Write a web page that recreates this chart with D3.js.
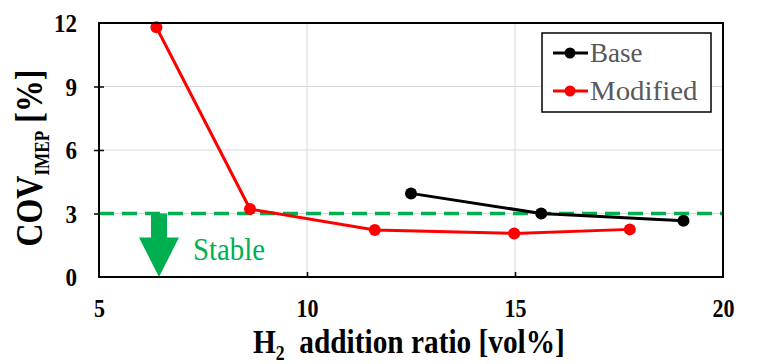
<!DOCTYPE html>
<html><head><meta charset="utf-8">
<script src="https://cdn.jsdelivr.net/npm/d3@7"></script>
<style>body{margin:0;background:#fff}svg{display:block}</style>
</head><body>
<script>
const baseX = [12.5, 15.63, 19.05];
const baseY = [3.95, 3.0, 2.66];
const modX = [6.38, 8.63, 11.63, 14.98, 17.76];
const modY = [11.8, 3.21, 2.22, 2.06, 2.25];
const xTicks = [5, 10, 15, 20];
const yTicks = [0, 3, 6, 9, 12];
const stableLimit = 3;
const seriesNames = ["Base", "Modified"];

const W = 760, H = 364;
const m = {l: 99, r: 37, t: 23, b: 87};
const svg = d3.select("body").append("svg").attr("width", W).attr("height", H);
const x = d3.scaleLinear().domain([5, 20]).range([m.l, W - m.r]);
const y = d3.scaleLinear().domain([0, 12]).range([H - m.b, m.t]);
const SERIF = "'Liberation Serif','Times New Roman',serif";
const fs = (size, bold) => `font-family:${SERIF};font-size:${size}px;font-weight:${bold ? "bold" : "normal"}`;

// place text at (px,py), optional rotation, horizontally scaled to a target width
function placeText(t, px, py, targetW, rot) {
  const w = t.node().getBBox().width;
  const s = targetW ? targetW / w : 1;
  t.attr("x", 0).attr("y", 0)
   .attr("transform", `translate(${px},${py})${rot ? ` rotate(${rot})` : ""} scale(${s},1)`);
}

// grid
svg.append("g").selectAll("line").data(xTicks.slice(1, -1)).join("line")
  .attr("x1", d => x(d)).attr("x2", d => x(d)).attr("y1", y(0)).attr("y2", y(12))
  .attr("stroke", "#d9d9d9").attr("stroke-width", 1);
svg.append("g").selectAll("line").data(yTicks.slice(1, -1)).join("line")
  .attr("x1", x(5)).attr("x2", x(20)).attr("y1", d => y(d)).attr("y2", d => y(d))
  .attr("stroke", "#d9d9d9").attr("stroke-width", 1);

// axes
const xAxis = svg.append("g").attr("transform", `translate(0,${y(0)})`)
  .call(d3.axisBottom(x).tickValues(xTicks).tickSize(-5));
const yAxis = svg.append("g").attr("transform", `translate(${x(5)},0)`)
  .call(d3.axisLeft(y).tickValues(yTicks).tickSize(5));
[xAxis, yAxis].forEach(a => {
  a.attr("font-family", null).attr("font-size", null);
  a.select(".domain").remove();
  a.selectAll("line").attr("stroke", "#000").attr("stroke-width", 1.5);
  a.selectAll("text").attr("style", fs(25, true)).attr("fill", "#000").attr("dy", null);
});
yAxis.selectAll(".tick line").attr("x2", 5).attr("x1", -5);
xAxis.selectAll(".tick").filter(d => d === 5 || d === 20).select("line").remove();
yAxis.selectAll(".tick").filter(d => d === 0 || d === 12).select("line").remove();
xAxis.selectAll(".tick text").each(function(d) {
  const t = d3.select(this).attr("text-anchor", "middle");
  placeText(t, 0, 317 - y(0), String(d).length * 11);
});
yAxis.selectAll(".tick text").each(function(d) {
  const t = d3.select(this).attr("text-anchor", "end");
  placeText(t, -22, 8.5, String(d).length * 11.5);
});

// stable line
svg.append("line").attr("x1", x(5)).attr("x2", x(20))
  .attr("y1", y(stableLimit)).attr("y2", y(stableLimit))
  .attr("stroke", "#00b050").attr("stroke-width", 3.5).attr("stroke-dasharray", "15,8");

// arrow
const ax = 159;
const ay0 = y(stableLimit), ay1 = y(0);
svg.append("path")
  .attr("d", `M${ax-8},${ay0} L${ax+8},${ay0} L${ax+8},${ay0+24} L${ax+20},${ay0+24} L${ax},${ay1} L${ax-20},${ay0+24} L${ax-8},${ay0+24} Z`)
  .attr("fill", "#00b050");
placeText(svg.append("text").text("Stable").attr("style", fs(32, false)).attr("fill", "#00b050"),
  193, 260, 72);

// series
const line = d3.line().x(d => x(d[0])).y(d => y(d[1]));
const series = [
  {name: seriesNames[0], data: d3.zip(baseX, baseY), color: "#000"},
  {name: seriesNames[1], data: d3.zip(modX, modY), color: "#ff0000"}
];
series.forEach(s => {
  svg.append("path").datum(s.data).attr("d", line).attr("fill", "none")
    .attr("stroke", s.color).attr("stroke-width", 3);
  svg.append("g").selectAll("circle").data(s.data).join("circle")
    .attr("cx", d => x(d[0])).attr("cy", d => y(d[1])).attr("r", 6).attr("fill", s.color);
});

// border
svg.append("rect").attr("x", x(5)).attr("y", y(12)).attr("width", x(20) - x(5))
  .attr("height", y(0) - y(12)).attr("fill", "none").attr("stroke", "#000").attr("stroke-width", 2);

// legend
const lg = svg.append("g");
lg.append("rect").attr("x", 542).attr("y", 33).attr("width", 169).attr("height", 79)
  .attr("fill", "#fff").attr("stroke", "#000").attr("stroke-width", 1.5);
series.forEach((s, i) => {
  const cy = 53 + i * 38;
  lg.append("line").attr("x1", 553).attr("x2", 588).attr("y1", cy).attr("y2", cy)
    .attr("stroke", s.color).attr("stroke-width", 3);
  lg.append("circle").attr("cx", 570).attr("cy", cy).attr("r", 5.5).attr("fill", s.color);
  const t = lg.append("text").text(s.name).attr("style", fs(27, false)).attr("fill", "#595959");
  placeText(t, 590, cy + 9, i === 1 ? 108 : null);
});

// axis titles
const xt = svg.append("text").attr("style", fs(33, true)).attr("fill", "#000")
  .call(t => {
    t.append("tspan").text("H");
    t.append("tspan").text("2").attr("style", fs(20, true)).attr("dy", 7);
    t.append("tspan").text("\u00a0 addition ratio [vol%]").attr("dy", -7);
  });
placeText(xt, 253, 353, 312);

const yt = svg.append("text").attr("style", fs(37, true)).attr("fill", "#000").attr("text-anchor", "middle")
  .call(t => {
    t.append("tspan").text("COV");
    t.append("tspan").text("IMEP").attr("style", fs(20, true)).attr("dy", 7);
    t.append("tspan").text(" [%]").attr("dy", -7);
  });
placeText(yt, 42, 158, 177, -90);
</script>
</body></html>
